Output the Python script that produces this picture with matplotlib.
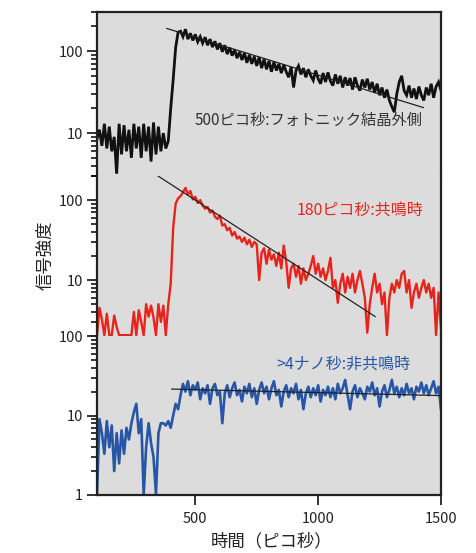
import numpy as np
import matplotlib
matplotlib.use("Agg")
import matplotlib.pyplot as plt
from matplotlib.ticker import LogLocator, NullFormatter, FixedLocator, FuncFormatter

plt.rcParams['font.family'] = ['Noto Sans CJK JP', 'DejaVu Sans']

# ---- data (time in ps, every 10 ps) ----
time_ps = np.arange(100, 1501, 10)

black_signal = [
    8.5, 11, 7, 13, 6.5, 12, 6, 9, 3.2, 13,
    5.5, 12.5, 6, 11, 5, 13, 6.5, 12, 5, 13,
    6, 12, 4.5, 13.5, 5.5, 12, 6, 10, 6.5, 8,
    20, 45, 110, 170, 175, 150, 185, 140, 165, 135,
    160, 130, 150, 125, 148, 118, 140, 112, 132, 105,
    125, 98, 118, 92, 110, 88, 104, 82, 98, 78,
    95, 72, 90, 70, 86, 66, 84, 62, 80, 60,
    76, 56, 74, 58, 70, 54, 68, 56, 48, 64,
    36, 58, 66, 52, 62, 48, 60, 50, 44, 58,
    46, 40, 54, 42, 55, 43, 38, 52, 40, 50,
    36, 48, 38, 47, 34, 48, 38, 33, 45, 36,
    46, 34, 42, 31, 40, 29, 36, 27, 34, 25,
    21, 18, 30, 42, 50, 33, 29, 38, 27, 35,
    26, 37, 29, 25, 36, 29, 40, 27, 37, 42,
    33,
]

red_signal = [
    2.05, 4.5, 3.2, 2.05, 3.8, 2.05, 2.05, 3.6, 2.6, 2.05,
    2.05, 2.05, 2.05, 2.05, 2.05, 4.0, 2.05, 4.2, 3.0, 2.05,
    5.0, 3.5, 4.8, 3.4, 2.05, 5.0, 3.0, 4.8, 2.05, 5.0,
    9, 45, 90, 105, 112, 125, 142, 118, 130, 102,
    110, 92, 100, 85, 78, 82, 70, 74, 62, 58,
    64, 48, 50, 42, 45, 36, 40, 33, 35, 30,
    34, 28, 32, 26, 30, 28, 10, 22, 25, 16,
    24, 18, 21, 15, 22, 14, 27, 17, 8, 14,
    16, 11, 15, 9, 14, 10, 12, 15, 20, 12,
    16, 11, 14, 10, 13, 19, 8, 10, 5.2, 9,
    12, 7, 11, 8, 12, 7, 10, 13, 9, 6,
    2.2, 5, 8, 12, 7, 9, 5, 7, 2.05, 6,
    9, 7, 10, 8, 12, 13, 7, 10, 4.5, 7,
    9, 6, 8, 10, 7, 9, 6, 8, 2.05, 7,
    2.5,
]

blue_signal = [
    1.02, 9, 6, 3.3, 8.5, 4, 7.5, 2.0, 6, 2.5,
    6.5, 3.3, 7, 5, 8, 11, 14, 6, 9, 1.02,
    4, 8, 4.5, 3, 1.02, 6, 8, 8, 7.5, 8.5,
    7, 10, 14, 12, 18, 25, 20, 27, 18, 24,
    21, 26, 16, 22, 19, 24, 14, 22, 25, 18,
    20, 8, 19, 24, 17, 22, 26, 18, 21, 15,
    23, 19, 25, 17, 22, 14, 21, 26, 19, 23,
    16, 22, 27, 18, 21, 13, 20, 24, 17, 22,
    19, 25, 16, 21, 12, 19, 23, 17, 22, 18,
    24, 15, 21, 18, 23, 17, 22, 16, 25, 19,
    22, 28, 18, 12, 20, 24, 17, 22, 19, 16,
    23, 20, 26, 18, 22, 13, 20, 24, 17, 21,
    28, 19, 23, 17, 22, 18, 25, 19, 22, 16,
    23, 20, 26, 19, 24, 18, 22, 27, 19, 23,
    12,
]

# fitted decay lines (endpoints: time, value)
black_fit_t = [384, 1428]
black_fit_v = [189, 20.5]
red_fit_t = [343, 1232]
red_fit_v = [205, 3.5]
blue_fit_t = [404, 1496]
blue_fit_v = [21.5, 17.8]

labels = ["500ピコ秒:フォトニック結晶外側", "180ピコ秒:共鳴時", ">4ナノ秒:非共鳴時"]
x_ticks = [500, 1000, 1500]

# ---- figure ----
W, H = 477, 553
fig = plt.figure(figsize=(W / 100, H / 100), dpi=100)
bg = '#dcdcdc'

def frac_box(top_px, bot_px):
    left = 97 / W
    width = 344 / W
    return [left, (H - bot_px) / H, width, (bot_px - top_px) / H]

ax_top = fig.add_axes(frac_box(12, 176))
ax_mid = fig.add_axes(frac_box(176, 336))
ax_bot = fig.add_axes(frac_box(336, 495))

limits = [(3, 300), (2, 200), (1, 100)]
axes = [ax_top, ax_mid, ax_bot]
for ax, lim in zip(axes, limits):
    ax.set_facecolor(bg)
    ax.set_yscale('log')
    ax.set_ylim(*lim)
    ax.set_xlim(100, 1500)
    ax.yaxis.set_major_locator(LogLocator(base=10, numticks=10))
    ax.yaxis.set_minor_locator(LogLocator(base=10, subs=np.arange(2, 10), numticks=10))
    ax.yaxis.set_minor_formatter(NullFormatter())
    ax.yaxis.set_major_formatter(FuncFormatter(lambda v, p: f"{v:g}"))
    ax.tick_params(axis='y', which='major', direction='out', length=7, width=1.3,
                   labelsize=10.5, pad=3, colors='#222222')
    ax.tick_params(axis='y', which='minor', direction='out', length=4, width=1.1)
    for s in ax.spines.values():
        s.set_linewidth(1.6)
        s.set_color('#222222')
    ax.spines['top'].set_visible(False)
    ax.spines['bottom'].set_visible(False)

ax_top.spines['top'].set_visible(True)
ax_bot.spines['bottom'].set_visible(True)
for ax in (ax_top, ax_mid):
    ax.set_xticks([])
ax_bot.xaxis.set_major_locator(FixedLocator(x_ticks))
ax_bot.tick_params(axis='x', direction='out', length=7, width=1.3, labelsize=10.5,
                   pad=5, colors='#222222')

ax_top.plot(time_ps, black_signal, color='#111111', lw=2.0, solid_joinstyle='miter')
ax_top.plot(black_fit_t, black_fit_v, color='#222222', lw=0.9)
ax_mid.plot(time_ps, red_signal, color='#e8231c', lw=1.7)
ax_mid.plot(red_fit_t, red_fit_v, color='#222222', lw=0.9)
ax_bot.plot(time_ps, blue_signal, color='#2856a6', lw=1.9)
ax_bot.plot(blue_fit_t, blue_fit_v, color='#222222', lw=0.9)

ax_top.text(1427, 14.4, labels[0], ha='right', va='center', fontsize=11, color='#333333')
ax_mid.text(1427, 75, labels[1], ha='right', va='center', fontsize=11.5, color='#e8231c')
ax_bot.text(1374, 44.7, labels[2], ha='right', va='center', fontsize=11.5, color='#2856a6')

fig.text(45 / W, 1 - 255 / H, "信号強度", rotation=90, ha='center', va='center',
         fontsize=12.5, color='#222222')
fig.text(272 / W, 1 - 541 / H, "時間（ピコ秒）", ha='center', va='center',
         fontsize=12.5, color='#222222')

fig.savefig("out.png", dpi=100)
